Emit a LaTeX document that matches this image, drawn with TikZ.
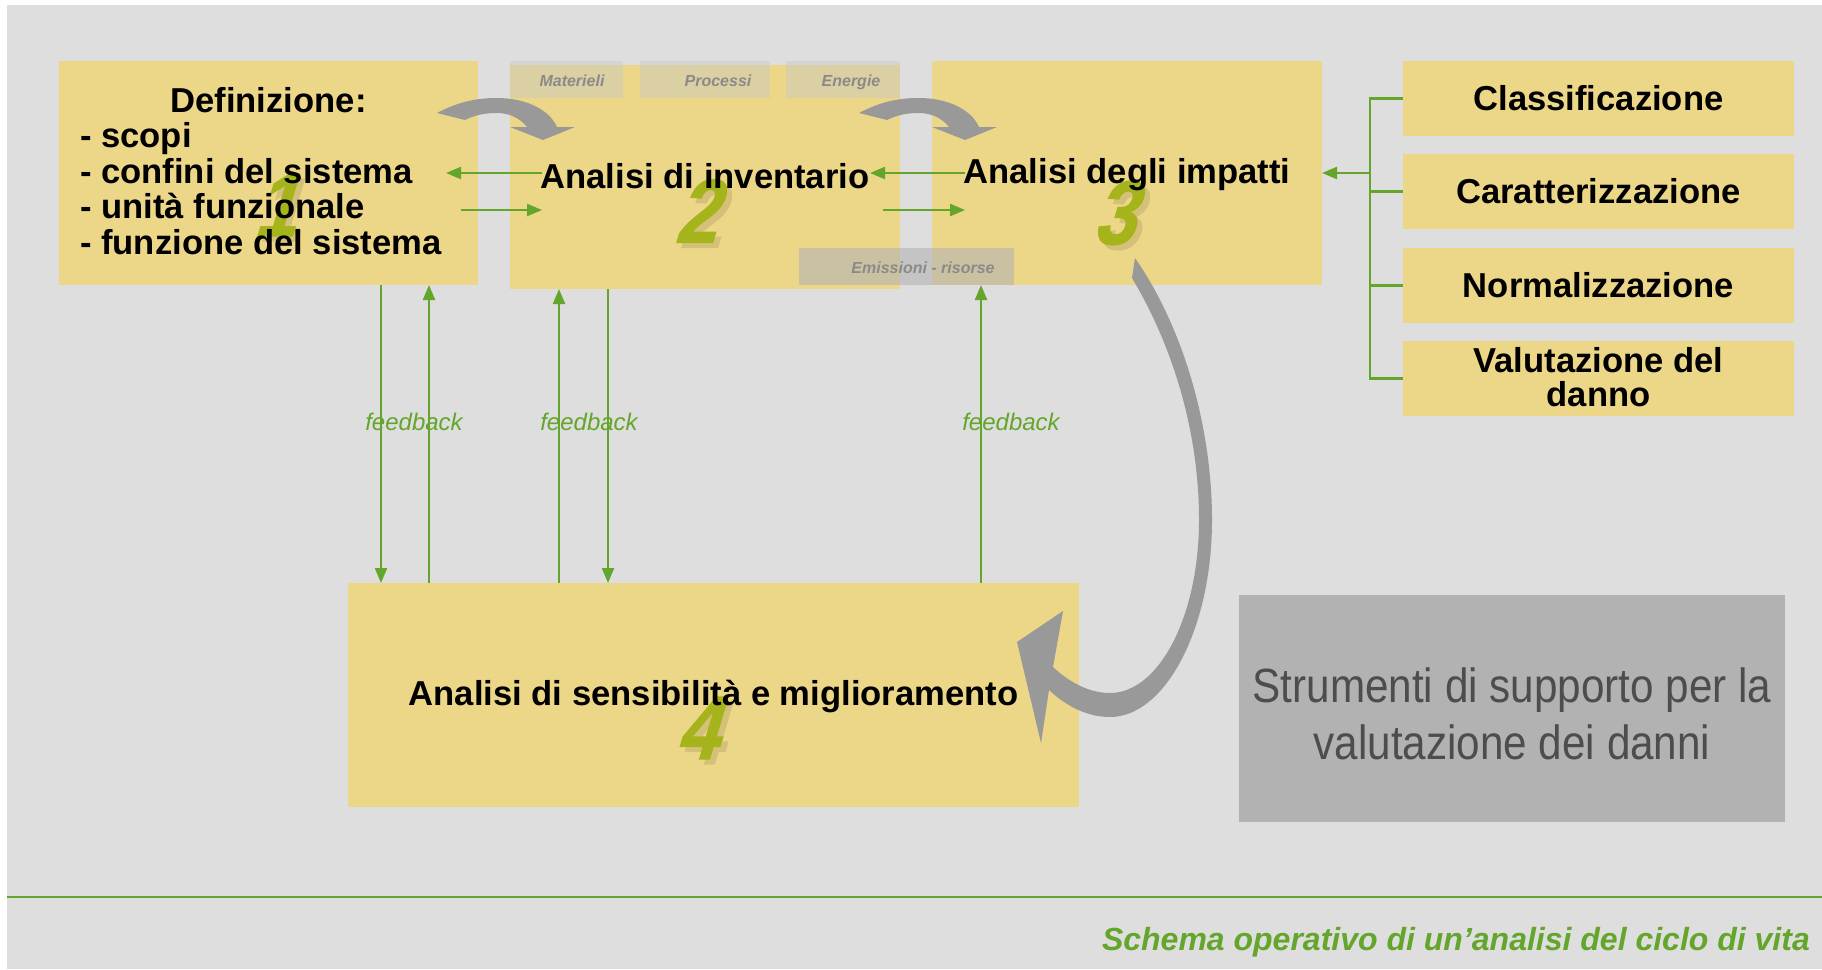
\documentclass[tikz,border=0pt]{standalone}
\usepackage{fontspec}
\setmainfont{Liberation Sans}
\newfontfamily\narrowfont{Liberation Sans}[FakeStretch=0.88]
\newfontfamily\numfont{Liberation Sans}[FakeStretch=0.82,FakeSlant=0.3,FakeBold=1.5]
\usetikzlibrary{arrows.meta}
\definecolor{bgc}{HTML}{DEDEDE}
\definecolor{yel}{HTML}{ECD688}
\definecolor{grn}{HTML}{64A62C}
\definecolor{numg}{HTML}{A6B41B}
\definecolor{nums}{HTML}{D5C07A}
\definecolor{arrg}{HTML}{999999}
\definecolor{tabg}{HTML}{C8C8C8}
\definecolor{emg}{HTML}{B4B4B4}
\definecolor{boxg}{HTML}{B2B2B2}
\definecolor{txtg}{HTML}{4D4D4D}
\definecolor{tabtxt}{HTML}{8A8A8A}
\tikzset{
  ybox/.style={fill=yel, draw=none, inner sep=0pt, outer sep=0pt},
  tabbox/.style={fill=tabg, fill opacity=0.45, draw=none, inner sep=0pt, outer sep=0pt},
  embox/.style={fill=emg, fill opacity=0.6, draw=none, inner sep=0pt, outer sep=0pt},
  bigtext/.style={inner sep=0pt, font=\fontsize{34.6}{35.5}\selectfont\bfseries, text=black},
  tabtext/.style={inner sep=0pt, font=\fontsize{16}{16}\selectfont\bfseries\itshape, text=tabtxt},
  fbtext/.style={inner sep=0pt, font=\fontsize{24}{24}\selectfont\itshape, text=grn},
  numtext/.style={inner sep=0pt, font=\numfont\fontsize{90}{90}\selectfont\bfseries, text=numg},
  numshadow/.style={inner sep=0pt, font=\numfont\fontsize{90}{90}\selectfont\bfseries, text=nums},
  gline/.style={draw=grn, line width=2.2pt},
  garrow/.style={draw=grn, line width=2.2pt, -{Triangle[length=15pt,width=12pt]}},
  grayarrow/.style={fill=arrg, draw=none}
}
\begin{document}
\begin{tikzpicture}[x=1pt,y=-1pt]
\useasboundingbox (0,0) rectangle (1822,969);
\fill[white] (0,0) rectangle (1822,969);
\fill[bgc] (7,5) rectangle (1822,969);

% main boxes
\node[ybox, minimum width=419pt, minimum height=224pt] (box1) at (268.5,173) {};
\node[ybox, minimum width=390pt, minimum height=224pt] (box2) at (705,177) {};
\node[ybox, minimum width=390pt, minimum height=224pt] (box3) at (1127,173) {};
\node[ybox, minimum width=731pt, minimum height=224pt] (box4) at (713.5,695) {};

% right boxes
\node[ybox, minimum width=391pt, minimum height=75pt] (r1) at (1598.5,98.5) {};
\node[ybox, minimum width=391pt, minimum height=75pt] (r2) at (1598.5,191.5) {};
\node[ybox, minimum width=391pt, minimum height=75pt] (r3) at (1598.5,285.5) {};
\node[ybox, minimum width=391pt, minimum height=75pt] (r4) at (1598.5,378.5) {};

% grey box
\node[fill=boxg, draw=none, minimum width=546pt, minimum height=227pt, inner sep=0pt] (gbox) at (1512,708.5) {};

% tabs
\node[tabbox, minimum width=113pt, minimum height=37pt] (tabM) at (566.5,79.5) {};
\node[tabbox, minimum width=130pt, minimum height=37pt] (tabP) at (705,79.5) {};
\node[tabbox, minimum width=114pt, minimum height=37pt] (tabE) at (843,79.5) {};
\node[embox, minimum width=215pt, minimum height=37pt] (tabEm) at (906.5,266.5) {};
\node[tabtext, anchor=base] (tM) at (572,86) {Materieli};
\node[tabtext, anchor=base] (tP) at (718,86) {Processi};
\node[tabtext, anchor=base] (tE) at (851,86) {Energie};
\node[tabtext, anchor=base] (tEm) at (923,273) {Emissioni - risorse};

% big numbers
\node[numshadow] (n1s) at (279,210) {1};
\node[numtext] (n1) at (274,205) {1};
\node[numshadow] (n2s) at (700,216) {2};
\node[numtext] (n2) at (695,211) {2};
\node[numshadow] (n3s) at (1118,218) {3};
\node[numtext] (n3) at (1113,213) {3};
\node[numshadow] (n4s) at (701,733) {4};
\node[numtext] (n4) at (696,728) {4};

% grey curved arrows
\fill[grayarrow] (437,113) .. controls (460,101) and (478,98) .. (497,98)
  .. controls (525,98) and (549,109) .. (557,127) -- (575,127) -- (543,140) -- (510,127) -- (527,127)
  .. controls (520,118) and (509,113) .. (497,113) .. controls (485,113) and (475,115) .. (465,120) -- cycle;
\begin{scope}[xshift=422pt]
\fill[grayarrow] (437,113) .. controls (460,101) and (478,98) .. (497,98)
  .. controls (525,98) and (549,109) .. (557,127) -- (575,127) -- (543,140) -- (510,127) -- (527,127)
  .. controls (520,118) and (509,113) .. (497,113) .. controls (485,113) and (475,115) .. (465,120) -- cycle;
\end{scope}
\fill[grayarrow] (1135,258) .. controls (1185,330) and (1212,430) .. (1212,520)
  .. controls (1212,629) and (1165,717) .. (1110,717)
  .. controls (1087,717) and (1066,706) .. (1049,690)
  -- (1041,743) -- (1017,642) -- (1063,611) -- (1053,667)
  .. controls (1070,683) and (1090,693) .. (1110,693)
  .. controls (1159,693) and (1199,616) .. (1199,520)
  .. controls (1199,430) and (1172,345) .. (1132,278) -- cycle;

% texts
\node[bigtext, anchor=base] (t1h) at (268.5,112) {Definizione:};
\node[bigtext, anchor=base west] (t1a) at (80,147) {- scopi};
\node[bigtext, anchor=base west] (t1b) at (80,183) {- confini del sistema};
\node[bigtext, anchor=base west] (t1c) at (80,218) {- unità funzionale};
\node[bigtext, anchor=base west] (t1d) at (80,254) {- funzione del sistema};
\node[bigtext, anchor=base] (t2) at (705,188) {Analisi di inventario};
\node[bigtext, anchor=base] (t3) at (1127,183) {Analisi degli impatti};
\node[bigtext, anchor=base] (t4) at (713.5,705) {Analisi di sensibilità e miglioramento};
\node[bigtext] (tr1) at (r1) {Classificazione};
\node[bigtext] (tr2) at (r2) {Caratterizzazione};
\node[bigtext] (tr3) at (r3) {Normalizzazione};
\node[bigtext, anchor=base] (tr4a) at (1598.5,372) {Valutazione del};
\node[bigtext, anchor=base] (tr4b) at (1598.5,406) {danno};
\node[inner sep=0pt, anchor=base, text=txtg, font=\narrowfont\fontsize{48}{57}\selectfont] (tg1) at (1512,702) {Strumenti di supporto per la};
\node[inner sep=0pt, anchor=base, text=txtg, font=\narrowfont\fontsize{48}{57}\selectfont] (tg2) at (1512,759) {valutazione dei danni};

% horizontal green arrows
\coordinate (a21s) at (542,173); \coordinate (a21e) at (446,173);
\coordinate (a12s) at (461,210); \coordinate (a12e) at (542,210);
\coordinate (a32s) at (965,173); \coordinate (a32e) at (870,173);
\coordinate (a23s) at (883,210); \coordinate (a23e) at (965,210);
\draw[garrow] (a21s) -- (a21e);
\draw[garrow] (a12s) -- (a12e);
\draw[garrow] (a32s) -- (a32e);
\draw[garrow] (a23s) -- (a23e);

% bracket
\coordinate (brx) at (1370,0);
\draw[gline] (r1.west) -- (r1.west -| brx) -- (r4.west -| brx) -- (r4.west);
\draw[gline] (r2.west) -- (r2.west -| brx);
\draw[gline] (r3.west) -- (r3.west -| brx);
\draw[garrow] (box3.east -| brx) -- (box3.east);

% feedback lines
\coordinate (f1) at (381,0);
\coordinate (f2) at (429,0);
\coordinate (f3) at (559,0);
\coordinate (f4) at (608,0);
\coordinate (f5) at (981,0);
\draw[garrow] (box1.south -| f1) -- (box4.north -| f1);
\draw[garrow] (box4.north -| f2) -- (box1.south -| f2);
\draw[garrow] (box4.north -| f3) -- (box2.south -| f3);
\draw[garrow] (box2.south -| f4) -- (box4.north -| f4);
\draw[garrow] (box4.north -| f5) -- (tabEm.south -| f5);
\node[fbtext, anchor=base] (fb1) at (414,430) {feedback};
\node[fbtext, anchor=base] (fb2) at (589,430) {feedback};
\node[fbtext, anchor=base] (fb3) at (1011,430) {feedback};

% footer
\coordinate (fl) at (7,897); \coordinate (fr) at (1822,897);
\draw[draw=grn, line width=2.5pt] (fl) -- (fr);
\node[inner sep=0pt, anchor=base east, text=grn, font=\fontsize{32}{32}\selectfont\bfseries\itshape] (foot) at (1810,950) {Schema operativo di un’analisi del ciclo di vita};
\end{tikzpicture}
\end{document}
